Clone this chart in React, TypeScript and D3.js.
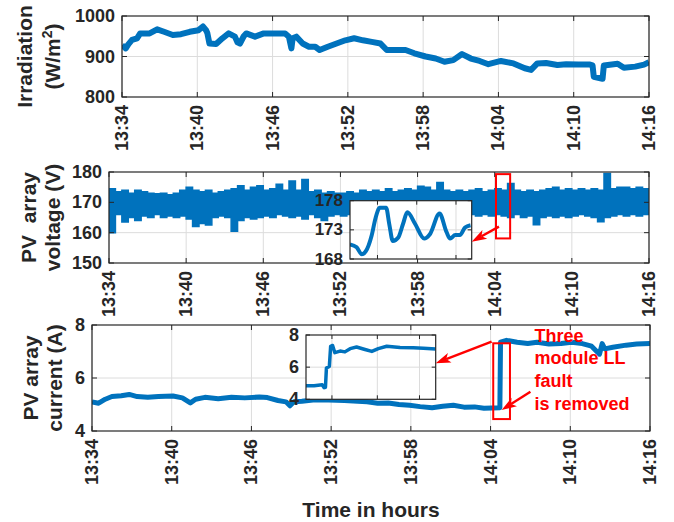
import React from 'react';
import * as d3 from 'd3';

// ---- time base: minutes after 13:34 ----
const START = new Date(2000, 0, 1, 13, 34, 0);
const at = (m: number) => new Date(START.getTime() + m * 60000);
const tickMinutes = [0, 6, 12, 18, 24, 30, 36, 42];

// ---- irradiation (W/m^2) ----
const irrMinutes = [0, 0.3, 0.5, 0.8, 1.2, 1.45, 2.2, 2.8, 3.35, 4.05, 4.7, 5.4, 6.1, 6.45, 6.7, 6.8, 6.97, 7.5, 8.0, 8.5, 9.0, 9.2, 9.4, 9.7, 9.9, 10.6, 11.3, 12.3, 13.0, 13.3, 13.5, 13.6, 13.9, 14.4, 14.9, 15.4, 15.75, 16.4, 17.1, 17.8, 18.5, 19.2, 19.9, 20.6, 21.1, 21.9, 22.6, 23.3, 24.2, 25.0, 25.7, 26.4, 27.1, 27.8, 28.5, 29.2, 30.2, 31.2, 32.1, 32.6, 33.1, 33.8, 34.7, 35.4, 36.4, 37.3, 37.5, 37.6, 38.3, 38.4, 39.5, 40.0, 40.9, 41.6, 42];
const irrValues = [928, 920, 930, 941, 945, 957, 957, 967, 961, 953, 955, 961, 965, 974, 965, 958, 932, 931, 945, 957, 949, 935, 932, 950, 957, 949, 957, 957, 957, 949, 920, 945, 949, 932, 924, 924, 916, 924, 932, 940, 945, 940, 936, 932, 916, 916, 916, 908, 900, 895, 887, 891, 906, 895, 889, 881, 889, 883, 871, 867, 883, 884, 879, 881, 880, 880, 878, 850, 845, 878, 882, 872, 875, 880, 886];

// ---- PV array voltage envelope (V), one sample every half minute ----
const voltStep = 0.5;
const voltHigh = [
  174.5, 173.5, 174, 173, 174, 173.5, 173, 172.8, 173, 172.5,
  173, 174, 175, 174, 173.5, 174, 173, 173.5, 174, 174.5,
  175.5, 174, 175, 175.5, 174, 174.5, 176, 174, 177, 174,
  177.5, 173.5, 174, 173, 173.5, 173, 173, 173.5, 173, 174,
  173.5, 174, 173.5, 174.5, 173.5, 174, 174.5, 174, 175.3, 175,
  174, 176.5, 174, 173.5, 174, 173.5, 174, 174.5, 173.5, 174,
  174.5, 174, 176.2, 174, 173.5, 174, 173.5, 174, 174.5, 175,
  174, 174.5, 174, 174.5, 174, 174.5, 174, 179.5, 174.5, 175,
  175, 174.5, 175, 174.5, 174.5,
];
const voltLow = [
  160, 166, 163.5, 165, 164, 165.5, 165, 166, 165, 165.5,
  165, 165.5, 164.5, 162, 163, 162.5, 165, 165.5, 165, 160.5,
  164, 165, 164.5, 165, 165.5, 165, 166, 165.5, 165, 165.5,
  164.5, 166, 165, 164, 165.5, 166, 165.5, 166, 165.5, 166,
  165.5, 166, 165.5, 165, 166, 165.5, 166, 165.5, 165, 165.5,
  166, 165.5, 165, 165.5, 166, 165.5, 166, 165.5, 166, 165.5,
  166, 165.5, 165, 166, 165, 165.5, 162.6, 165, 165.5, 165,
  165.5, 165, 165.5, 166, 165.5, 165, 163.6, 165, 165.5, 166,
  165.5, 166, 165.5, 166, 166,
];

// zoomed voltage around the fault removal (seconds, V)
const voltZoomSec = [0, 1.7, 3.0, 4.0, 5.5, 6.5, 7.6, 9.2, 10.0, 10.9, 12.3, 13.5, 14.6, 16.6, 18.9, 20.4, 22.8, 24.6, 25.5, 26.8, 28.0, 29.3, 30.7];
const voltZoomVal = [170.5, 170.0, 168.8, 169.3, 172.0, 175.0, 176.8, 176.8, 174.0, 171.1, 171.7, 174.0, 176.0, 174.0, 171.5, 172.3, 175.8, 172.6, 171.5, 172.1, 172.1, 173.4, 173.8];
const voltZoomTicks = [168, 173, 178];
const voltZoomGrid = [7, 17, 27];

// ---- PV array current (A) ----
const curMinutes = [0, 0.5, 1.0, 1.5, 2.2, 2.8, 3.4, 4.2, 5.0, 6.1, 6.8, 7.4, 7.8, 8.5, 9.5, 10.5, 11.5, 12.6, 13.2, 14.0, 14.6, 14.9, 15.2, 15.8, 16.8, 17.8, 19.0, 20.0, 20.7, 21.5, 22.3, 23.1, 23.9, 24.7, 25.6, 26.4, 27.2, 28.0, 28.8, 29.5, 30.1, 30.7, 30.75, 31.2, 32, 32.8, 33.5, 34.4, 35.3, 36.1, 36.9, 37.6, 37.9, 38.2, 38.4, 38.6, 39.2, 40.2, 41.0, 42];
const curValues = [5.1, 5.05, 5.2, 5.3, 5.33, 5.38, 5.3, 5.27, 5.3, 5.32, 5.25, 5.06, 5.2, 5.27, 5.22, 5.27, 5.25, 5.28, 5.26, 5.15, 5.1, 4.95, 5.1, 5.12, 5.18, 5.17, 5.15, 5.12, 5.1, 5.05, 5.06, 5.0, 4.97, 4.92, 4.88, 4.93, 4.97, 4.9, 4.91, 4.86, 4.87, 4.88, 7.35, 7.42, 7.35, 7.3, 7.35, 7.28, 7.3, 7.35, 7.3, 7.2, 7.05, 6.9, 7.3, 7.1, 7.16, 7.24, 7.28, 7.3];

// zoomed current around the fault removal (seconds, A)
const curZoomSec = [0, 2.5, 5.0, 5.6, 6.0, 6.3, 7.2, 7.6, 8.2, 8.9, 10.5, 12, 13.6, 15.6, 18.2, 20.3, 22.3, 24.9, 29, 33.1, 36.2, 40];
const curZoomVal = [4.85, 4.85, 4.9, 4.72, 4.75, 5.95, 6.05, 7.3, 7.35, 6.9, 7.0, 6.95, 7.15, 7.25, 7.1, 6.98, 7.15, 7.3, 7.22, 7.2, 7.18, 7.13];
const curZoomTicks = [4, 6, 8];
const curZoomGrid = [8, 22, 35];

const annotationLines = ['Three', 'module LL', 'fault', 'is removed'];

// ---- styling ----
const FONT = "'Liberation Sans', Arial, Helvetica, sans-serif";
const INK = '#262626';
const BLUE = '#0072BD';
const GRID = '#dcdcdc';
const RED = '#ff0000';
const fmt = d3.timeFormat('%H:%M');

type Lin = d3.ScaleLinear<number, number>;

function Frame({ x, y, xVals, yTicks, gridY, tickLen = 5, fontSize = 18, xLabels = true, id, children }: {
  x: any; y: Lin; xVals: any[]; yTicks: number[]; gridY: number[]; tickLen?: number; fontSize?: number; xLabels?: boolean; id: string; children?: React.ReactNode;
}) {
  const [x0, x1] = x.range();
  const [y1, y0] = y.range();
  return (
    <g>
      <rect x={x0} y={y0} width={x1 - x0} height={y1 - y0} fill="#fff" />
      {xVals.map((v, i) => (
        <line key={'gx' + i} x1={x(v)} x2={x(v)} y1={y0} y2={y1} stroke={GRID} strokeWidth={1} />
      ))}
      {gridY.map((v, i) => (
        <line key={'gy' + i} x1={x0} x2={x1} y1={y(v)} y2={y(v)} stroke={GRID} strokeWidth={1} />
      ))}
      <clipPath id={id}>
        <rect x={x0} y={y0} width={x1 - x0} height={y1 - y0} />
      </clipPath>
      <g clipPath={`url(#${id})`}>{children}</g>
      {xVals.map((v, i) => (
        <g key={'tx' + i}>
          <line x1={x(v)} x2={x(v)} y1={y1} y2={y1 - tickLen} stroke={INK} />
          <line x1={x(v)} x2={x(v)} y1={y0} y2={y0 + tickLen} stroke={INK} />
        </g>
      ))}
      {yTicks.map((v, i) => (
        <g key={'ty' + i}>
          <line x1={x0} x2={x0 + tickLen} y1={y(v)} y2={y(v)} stroke={INK} />
          <line x1={x1} x2={x1 - tickLen} y1={y(v)} y2={y(v)} stroke={INK} />
          <text x={x0 - 7} y={y(v)} textAnchor="end" dominantBaseline="central" fontSize={fontSize} fontWeight="bold" fill={INK}>
            {v}
          </text>
        </g>
      ))}
      {xLabels &&
        xVals.map((v, i) => (
          <text key={'lx' + i} transform={`translate(${x(v)},${y1 + 8}) rotate(-90)`} textAnchor="end" dominantBaseline="central" fontSize={fontSize} fontWeight="bold" fill={INK}>
            {fmt(v)}
          </text>
        ))}
      <rect x={x0} y={y0} width={x1 - x0} height={y1 - y0} fill="none" stroke={INK} strokeWidth={1.2} />
    </g>
  );
}

function Arrow({ x1, y1, x2, y2, head = 15, width = 10 }: { x1: number; y1: number; x2: number; y2: number; head?: number; width?: number }) {
  const dx = x2 - x1, dy = y2 - y1;
  const len = Math.hypot(dx, dy);
  const ux = dx / len, uy = dy / len;
  const bx = x2 - ux * head, by = y2 - uy * head;
  const nx = -uy * width / 2, ny = ux * width / 2;
  const mx = x2 - ux * head * 0.75, my = y2 - uy * head * 0.75;
  return (
    <g>
      <line x1={x1} y1={y1} x2={mx} y2={my} stroke={RED} strokeWidth={2.4} />
      <polygon points={`${x2},${y2} ${bx + nx},${by + ny} ${mx},${my} ${bx - nx},${by - ny}`} fill={RED} />
    </g>
  );
}

function YLabel({ x, cy, children }: { x: number; cy: number; children: React.ReactNode }) {
  return (
    <text transform={`translate(${x},${cy}) rotate(-90)`} textAnchor="middle" fontSize={21} fontWeight="bold" fill={INK} style={{ whiteSpace: 'pre' }}>
      {children}
    </text>
  );
}

export default function App() {
  const xVals = tickMinutes.map(at);

  // top panel
  const xTop = d3.scaleTime().domain([at(0), at(42)]).range([122, 649]);
  const yTop = d3.scaleLinear().domain([800, 1000]).range([97, 16]);
  const irrLine = d3.line<number>().x((_, i) => xTop(at(irrMinutes[i]))).y((v) => yTop(v)).curve(d3.curveLinear)(irrValues) || '';

  // middle panel
  const xMid = d3.scaleTime().domain([at(0), at(42)]).range([109, 649]);
  const yMid = d3.scaleLinear().domain([150, 180]).range([263, 172]);
  const voltBand = d3
    .area<number>()
    .x((_, i) => xMid(at(i * voltStep)))
    .y0((_, i) => yMid(voltLow[i]))
    .y1((v) => yMid(v))
    .curve(d3.curveStepAfter)(voltHigh) || '';
  const xVz = d3.scaleLinear().domain([0, 31]).range([350, 471.7]);
  const yVz = d3.scaleLinear().domain([168, 178]).range([259, 200.7]);
  const voltZoomLine = d3.line<number>().x((_, i) => xVz(voltZoomSec[i])).y((v) => yVz(v)).curve(d3.curveMonotoneX)(voltZoomVal) || '';

  // bottom panel
  const xBot = d3.scaleTime().domain([at(0), at(42)]).range([92, 650]);
  const yBot = d3.scaleLinear().domain([4, 8]).range([431, 325]);
  const curLine = d3.line<number>().x((_, i) => xBot(at(curMinutes[i]))).y((v) => yBot(v))(curValues) || '';
  const xCz = d3.scaleLinear().domain([0, 40]).range([306, 435.7]);
  const yCz = d3.scaleLinear().domain([4, 8]).range([399.3, 335]);
  const curZoomLine = d3.line<number>().x((_, i) => xCz(curZoomSec[i])).y((v) => yCz(v))(curZoomVal) || '';

  // highlight boxes around the fault removal instant
  const vBox = { x: xMid(at(30.1)), y: yMid(179.3), w: xMid(at(31.2)) - xMid(at(30.1)), h: yMid(158.1) - yMid(179.3) };
  const cBox = { x: xBot(at(30.2)), y: yBot(7.31), w: xBot(at(31.46)) - xBot(at(30.2)), h: yBot(4.45) - yBot(7.31) };
  const textX = xBot(at(33.3));
  const textY = yBot(7.37);

  return (
    <svg width={674} height={522} viewBox="0 0 674 522" style={{ position: 'absolute', left: 0, top: 0, background: '#fff' }} fontFamily={FONT}>
      <rect width={674} height={522} fill="#fff" />

      {/* Irradiation */}
      <Frame x={xTop} y={yTop} xVals={xVals} yTicks={[800, 900, 1000]} gridY={[900]} id="clipTop">
        <path d={irrLine} fill="none" stroke={BLUE} strokeWidth={6} strokeLinejoin="round" />
      </Frame>
      <YLabel x={32} cy={56.5}>Irradiation</YLabel>
      <YLabel x={60} cy={56.5}>
        <tspan>(W/m</tspan>
        <tspan dy={-8} fontSize={14}>2</tspan>
        <tspan dy={8}>)</tspan>
      </YLabel>

      {/* PV array voltage */}
      <Frame x={xMid} y={yMid} xVals={xVals} yTicks={[150, 160, 170, 180]} gridY={[160, 170]} id="clipMid">
        <path d={voltBand} fill={BLUE} stroke={BLUE} strokeWidth={1.5} />
      </Frame>
      <Frame x={xVz} y={yVz} xVals={voltZoomGrid} yTicks={voltZoomTicks} gridY={[173]} xLabels={false} fontSize={17} tickLen={4} id="clipVz">
        <path d={voltZoomLine} fill="none" stroke={BLUE} strokeWidth={4} strokeLinejoin="round" />
      </Frame>
      <rect x={vBox.x} y={vBox.y} width={vBox.w} height={vBox.h} fill="none" stroke={RED} strokeWidth={2} />
      <Arrow x1={xMid(at(30.33))} y1={yMid(162)} x2={xVz.range()[1]} y2={yVz(170.97)} />
      <YLabel x={36} cy={217.5}>{'PV  array'}</YLabel>
      <YLabel x={60} cy={217.5}>voltage (V)</YLabel>

      {/* PV array current */}
      <Frame x={xBot} y={yBot} xVals={xVals} yTicks={[4, 6, 8]} gridY={[6]} id="clipBot">
        <path d={curLine} fill="none" stroke={BLUE} strokeWidth={5} strokeLinejoin="round" />
      </Frame>
      <Frame x={xCz} y={yCz} xVals={curZoomGrid} yTicks={curZoomTicks} gridY={[6]} xLabels={false} tickLen={4} id="clipCz">
        <path d={curZoomLine} fill="none" stroke={BLUE} strokeWidth={3.5} strokeLinejoin="round" />
      </Frame>
      <rect x={cBox.x} y={cBox.y} width={cBox.w} height={cBox.h} fill="none" stroke={RED} strokeWidth={2} />
      <Arrow x1={xBot(at(30.08))} y1={yBot(7.37)} x2={xCz.range()[1]} y2={yCz(6.25)} />
      <Arrow x1={xBot(at(33.0))} y1={yBot(5.48)} x2={xBot(at(30.83))} y2={yBot(4.79)} />
      {annotationLines.map((s, i) => (
        <text key={s} x={textX} y={textY + i * 22.8} fontSize={18} fontWeight="bold" fill={RED}>
          {s}
        </text>
      ))}
      <YLabel x={38} cy={378}>PV array</YLabel>
      <YLabel x={62} cy={378}>current (A)</YLabel>

      <text x={371} y={517} textAnchor="middle" fontSize={21} fontWeight="bold" fill={INK}>
        Time in hours
      </text>
    </svg>
  );
}
